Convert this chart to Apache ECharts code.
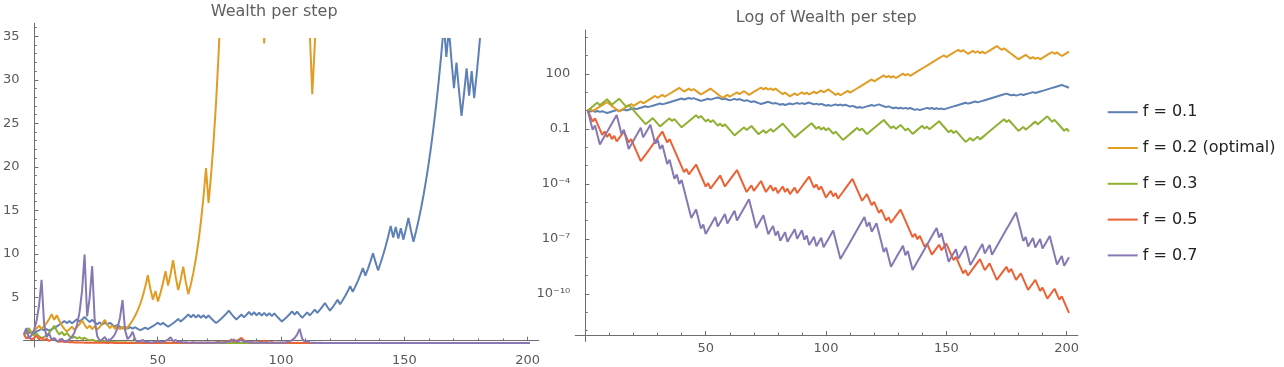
<!DOCTYPE html>
<html><head><meta charset="utf-8">
<script src="https://cdn.jsdelivr.net/npm/echarts@6/dist/echarts.min.js"></script>
<style>html,body{margin:0;padding:0;background:#fff;}#c{width:1284px;height:367px;}</style>
</head><body><div id="c"></div>
<script>
const seriesNames = ['f = 0.1', 'f = 0.2 (optimal)', 'f = 0.3', 'f = 0.5', 'f = 0.7'];
const colors = ['#5E81B5', '#E19C24', '#8FB032', '#EB6235', '#8778B3'];
const titleLeft = 'Wealth per step';
const titleRight = 'Log of Wealth per step';
const xTickLabels = [50, 100, 150, 200];
const xMinorTicks = [10,20,30,40,50,60,70,80,90,100,110,120,130,140,150,160,170,180,190,200];
const linYTickLabels = [5, 10, 15, 20, 25, 30, 35];
const linYMinorTicks = [1,2,3,4,5,6,7,8,9,10,11,12,13,14,15,16,17,18,19,20,21,22,23,24,25,26,27,28,29,30,31,32,33,34,35,36];
const logYTickExps = [2, -1, -4, -7, -10];
const logYTickLabels = ['100', '0.1', '10\u207B\u2074', '10\u207B\u2077', '10\u207B\u00B9\u2070'];
const logYMinorExps = [-12,-11,-10,-9,-8,-7,-6,-5,-4,-3,-2,-1,0,1,2,3,4];

// Left chart: wealth per step (linear), steps 1..201
const wealthF01 = [
1.00,1.10,1.21,1.09,1.20,1.32,1.45,1.60,1.44,1.58,
1.42,1.57,1.72,1.89,2.08,2.29,2.52,2.27,2.50,2.25,
2.47,2.72,2.45,2.69,2.96,2.67,2.40,2.64,2.37,2.14,
2.35,2.12,2.33,2.10,2.31,2.08,1.87,2.06,1.85,1.67,
1.83,1.65,1.82,1.64,1.80,1.62,1.46,1.60,1.76,1.59,
1.75,1.92,2.11,2.32,2.09,2.30,2.07,1.86,2.05,2.25,
2.48,2.73,2.45,2.70,2.97,3.27,2.94,3.23,2.91,3.20,
2.88,3.17,2.85,3.14,2.82,2.54,2.29,2.52,2.77,3.05,
3.35,3.69,3.32,2.99,2.69,2.96,3.25,2.93,3.22,3.54,
3.19,3.51,3.16,3.47,3.13,3.44,3.10,3.41,3.07,3.38,
3.04,2.74,2.46,2.71,2.98,3.28,3.61,3.25,3.57,3.22,
2.89,3.18,3.50,3.15,3.47,3.81,3.43,3.78,4.15,4.57,
4.11,3.70,4.07,4.48,4.93,4.43,4.88,5.36,5.90,6.49,
5.84,6.43,7.07,7.78,8.56,7.70,8.47,9.32,10.25,9.23,
8.30,9.13,10.05,11.05,12.16,13.37,12.04,13.24,11.92,13.11,
11.80,12.98,14.28,12.85,11.56,12.72,13.99,15.39,16.93,18.62,
20.48,22.53,24.78,27.26,29.99,32.99,36.29,32.66,35.93,32.34,
29.10,32.01,28.81,25.93,28.52,31.37,28.24,31.06,27.95,30.75,
33.82,37.20,40.92,36.83,40.51,44.56,40.11,44.12,48.53,43.68,
48.05,52.85,58.14,52.32,57.56,63.31,56.98,62.68,68.95,62.05,
68.26];
const wealthF02 = [
1.00,1.20,1.44,1.15,1.38,1.66,1.99,1.59,1.91,2.29,
2.75,3.30,2.64,3.17,2.54,2.03,1.62,1.30,1.56,1.87,
1.50,1.80,2.16,2.59,2.07,1.66,1.99,1.59,1.91,1.53,
1.84,2.20,2.64,2.11,1.69,2.03,1.62,1.95,1.56,1.87,
1.50,1.80,2.16,2.59,3.11,3.73,4.48,5.37,6.45,7.74,
6.19,4.95,5.94,4.75,5.70,6.84,8.21,6.57,7.88,9.46,
7.57,6.05,7.26,8.72,6.97,5.58,6.69,8.03,9.64,11.56,
13.88,16.65,19.98,15.99,19.18,23.02,27.62,33.15,39.78,47.73,
57.28,45.82,54.99,43.99,52.79,63.34,50.68,60.81,48.65,58.38,
46.70,56.04,44.84,53.50,42.80,34.20,41.04,49.25,39.40,47.28,
56.74,45.39,54.47,43.58,52.29,62.75,50.20,40.16,48.19,38.55,
46.26,37.01,44.41,35.53,28.42,34.10,40.92,49.10,58.92,47.14,
56.57,67.88,54.31,65.17,78.20,93.84,75.07,90.08,108.1,86.48,
105.1,126.2,100.9,121.1,145.3,174.4,139.5,167.4,133.9,160.7,
192.9,231.4,185.2,222.2,266.6,213.3,256.0,307.2,245.7,294.9,
353.9,283.1,339.7,407.6,326.1,391.3,469.6,375.7,450.8,541.0,
432.8,519.3,623.2,498.6,598.3,478.6,574.4,689.2,551.4,661.7,
794.0,635.2,762.3,914.7,731.8,878.1,702.5,843.0,1011.6,809.3,
971.1,1165.3,932.3,1118.7,1342.5,1074.0,1288.8,1031.0,1237.2,1484.7,
1187.7,1425.3,1710.3,1368.3,1641.9,1313.5,1576.3,1891.5,1513.2,1815.9,
2179.0];
const wealthF03 = [
1.00,1.30,1.69,1.18,0.83,1.08,0.76,0.53,0.69,0.90,
1.17,1.52,1.97,1.38,0.97,1.26,0.88,1.14,0.80,0.56,
0.73,0.51,0.66,0.46,0.60,0.42,0.29,0.38,0.27,0.19,
0.24,0.17,0.22,0.16,0.11,0.14,0.10,0.07,0.09,0.06,
0.08,0.05,0.04,0.05,0.03,0.02,0.03,0.02,0.01,0.02,
0.01,0.01,0.02,0.01,0.01,0.01,0,0.01,0.01,0,
0,0,0,0,0,0,0,0,0,0,
0,0,0,0,0,0,0,0,0,0,
0,0,0,0,0,0,0,0,0,0,
0,0,0,0,0,0,0,0,0,0,
0,0,0,0,0,0,0,0,0,0,
0,0,0,0,0,0,0,0,0,0,
0,0,0,0,0,0,0,0,0,0,
0,0,0,0,0,0,0,0,0,0,
0,0,0,0,0,0,0,0,0,0,
0,0,0,0,0,0,0,0,0,0,
0,0,0,0,0,0,0,0,0,0,
0,0,0,0,0,0,0,0,0,0,
0,0,0,0,0,0,0,0,0,0,
0,0,0,0,0,0,0,0,0,0,
0];
const wealthF05 = [
1.00,0.50,0.75,0.38,0.56,0.84,0.42,0.63,0.32,0.47,
0.24,0.35,0.53,0.26,0.13,0.20,0.10,0.15,0.08,0.11,
0.06,0.09,0.05,0.07,0.03,0.05,0.02,0.04,0.06,0.03,
0.04,0.02,0.03,0.01,0.02,0.03,0.01,0.02,0.01,0.02,
0.01,0.01,0.02,0.01,0.01,0.02,0.03,0.01,0.02,0.01,
0.01,0.02,0.01,0.01,0.02,0.03,0.01,0.02,0.03,0.02,
0.03,0.01,0.02,0.03,0.01,0.02,0.01,0.02,0.03,0.04,
0.02,0.03,0.05,0.02,0.04,0.06,0.09,0.13,0.07,0.10,
0.15,0.23,0.34,0.17,0.26,0.39,0.58,0.29,0.14,0.07,
0.11,0.05,0.08,0.12,0.18,0.27,0.13,0.07,0.10,0.05,
0.03,0.04,0.02,0.03,0.01,0.02,0.03,0.01,0.02,0.01,
0.01,0.01,0,0.01,0,0,0.01,0,0,0,
0,0,0,0,0,0,0,0,0,0,
0,0,0,0,0,0,0,0,0,0,
0,0,0,0,0,0,0,0,0,0,
0,0,0,0,0,0,0,0,0,0,
0,0,0,0,0,0,0,0,0,0,
0,0,0,0,0,0,0,0,0,0,
0,0,0,0,0,0,0,0,0,0,
0,0,0,0,0,0,0,0,0,0,
0];
const wealthF07 = [
1.00,1.70,0.51,0.87,1.47,2.50,4.25,7.22,2.17,0.65,
1.10,0.33,0.56,0.17,0.29,0.49,0.15,0.25,0.42,0.71,
1.21,2.06,3.50,5.95,10.11,3.03,5.16,8.77,2.63,0.79,
0.24,0.40,0.68,0.20,0.35,0.59,1.00,1.70,2.89,4.91,
1.47,0.44,0.75,1.28,0.38,0.12,0.20,0.34,0.10,0.17,
0.05,0.09,0.15,0.26,0.08,0.13,0.23,0.39,0.66,0.20,
0.34,0.10,0.17,0.05,0.09,0.03,0.05,0.08,0.02,0.04,
0.07,0.02,0.03,0.06,0.02,0.03,0.05,0.09,0.03,0.05,
0.08,0.14,0.24,0.41,0.12,0.21,0.36,0.11,0.18,0.05,
0.09,0.03,0.05,0.02,0.03,0.05,0.01,0.02,0.04,0.01,
0.02,0.03,0.06,0.02,0.11,0.19,0.33,0.56,0.95,1.62,
0.49,0.15,0.25,0.07,0.02,0.04,0.01,0.02,0.01,0,
0,0,0,0,0,0,0,0,0,0,
0,0,0,0,0,0,0,0,0,0,
0,0,0,0,0,0,0,0,0,0,
0,0,0,0,0,0,0,0,0,0,
0,0,0,0,0,0,0,0,0,0,
0,0,0,0,0,0,0,0,0,0,
0,0,0,0,0,0,0,0,0,0,
0,0,0,0,0,0,0,0,0,0,
0];

// Right chart: log10 of wealth per step (independent run), steps 1..201
const logWealthF01 = [
0.00,-0.05,-0.01,-0.06,-0.02,-0.07,-0.03,-0.08,-0.13,-0.09,
-0.05,-0.01,0.03,-0.02,0.02,0.06,0.01,0.05,0.09,0.13,
0.08,0.12,0.16,0.20,0.24,0.19,0.23,0.27,0.31,0.35,
0.39,0.34,0.38,0.42,0.46,0.50,0.54,0.58,0.62,0.66,
0.61,0.65,0.69,0.64,0.68,0.63,0.58,0.53,0.57,0.61,
0.65,0.60,0.64,0.68,0.72,0.67,0.62,0.66,0.61,0.56,
0.60,0.64,0.59,0.63,0.58,0.53,0.57,0.52,0.47,0.51,
0.46,0.41,0.36,0.40,0.44,0.48,0.43,0.38,0.42,0.37,
0.32,0.36,0.31,0.35,0.39,0.34,0.38,0.42,0.37,0.41,
0.36,0.40,0.44,0.39,0.34,0.38,0.33,0.37,0.32,0.27,
0.31,0.26,0.30,0.34,0.29,0.33,0.28,0.32,0.27,0.22,
0.26,0.21,0.16,0.20,0.15,0.19,0.23,0.27,0.31,0.26,
0.30,0.34,0.29,0.24,0.19,0.23,0.18,0.13,0.17,0.12,
0.16,0.11,0.15,0.10,0.14,0.09,0.04,0.08,0.03,0.07,
0.11,0.15,0.10,0.14,0.09,0.13,0.08,0.12,0.07,0.11,
0.15,0.19,0.23,0.27,0.31,0.35,0.39,0.43,0.38,0.42,
0.46,0.50,0.45,0.49,0.53,0.57,0.61,0.65,0.69,0.73,
0.77,0.81,0.85,0.89,0.93,0.88,0.83,0.87,0.82,0.86,
0.90,0.85,0.89,0.93,0.97,1.01,0.96,1.00,1.04,1.08,
1.12,1.16,1.20,1.24,1.28,1.32,1.36,1.40,1.35,1.30,
1.25];
const logWealthF02 = [
0.00,0.08,-0.02,0.06,0.14,0.22,0.30,0.38,0.46,0.36,
0.26,0.16,0.06,-0.04,0.04,0.12,0.20,0.28,0.36,0.26,
0.34,0.42,0.50,0.40,0.48,0.56,0.64,0.72,0.80,0.70,
0.78,0.86,0.76,0.84,0.92,1.00,1.08,1.16,1.24,1.14,
1.04,1.12,1.20,1.10,1.18,1.08,0.98,0.88,0.96,1.04,
1.12,1.20,1.10,1.00,0.90,0.80,0.70,0.78,0.86,0.76,
0.84,0.92,1.00,0.90,0.98,1.06,0.96,0.86,0.94,1.02,
1.10,1.18,1.26,1.16,1.24,1.14,1.22,1.12,1.20,1.10,
1.00,0.90,0.98,0.88,0.78,0.86,0.94,0.84,0.92,1.00,
0.90,0.98,0.88,0.96,1.04,0.94,1.02,1.10,1.00,1.08,
1.16,1.06,0.96,0.86,0.94,0.84,0.92,1.00,1.08,0.98,
1.06,1.14,1.22,1.30,1.38,1.46,1.54,1.62,1.70,1.60,
1.68,1.76,1.84,1.92,1.82,1.90,1.80,1.88,1.78,1.86,
1.94,2.02,1.92,2.00,1.90,1.98,2.06,2.14,2.22,2.30,
2.38,2.46,2.54,2.62,2.70,2.78,2.86,2.94,3.02,2.92,
3.00,3.08,3.16,3.24,3.32,3.22,3.30,3.20,3.10,3.18,
3.26,3.16,3.24,3.14,3.22,3.12,3.20,3.28,3.36,3.44,
3.52,3.42,3.32,3.40,3.30,3.20,3.10,3.00,2.90,2.80,
2.88,2.96,3.04,2.94,2.84,2.92,2.82,2.90,2.80,2.88,
2.96,3.04,3.12,3.20,3.10,3.18,3.08,2.98,3.06,3.14,
3.22];
const logWealthF03 = [
0.00,0.11,0.22,0.33,0.44,0.29,0.40,0.51,0.62,0.47,
0.32,0.43,0.54,0.65,0.50,0.35,0.20,0.31,0.16,0.01,
-0.14,-0.29,-0.44,-0.59,-0.74,-0.63,-0.52,-0.41,-0.56,-0.71,
-0.86,-0.75,-0.64,-0.53,-0.42,-0.57,-0.46,-0.61,-0.76,-0.91,
-0.80,-0.69,-0.58,-0.47,-0.36,-0.25,-0.40,-0.29,-0.44,-0.59,
-0.48,-0.63,-0.52,-0.67,-0.82,-0.71,-0.86,-0.75,-0.90,-1.05,
-1.20,-1.35,-1.24,-1.13,-1.02,-0.91,-1.06,-0.95,-0.84,-0.99,
-1.14,-1.29,-1.18,-1.07,-1.22,-1.11,-1.00,-1.15,-1.04,-0.93,
-0.82,-0.71,-0.86,-1.01,-1.16,-1.31,-1.46,-1.35,-1.24,-1.13,
-1.02,-0.91,-0.80,-0.69,-0.84,-0.99,-0.88,-1.03,-0.92,-1.07,
-0.96,-1.11,-1.26,-1.15,-1.30,-1.45,-1.60,-1.49,-1.38,-1.27,
-1.16,-1.05,-0.94,-1.09,-0.98,-1.13,-1.28,-1.17,-1.06,-0.95,
-0.84,-0.73,-0.62,-0.51,-0.66,-0.81,-0.96,-0.85,-1.00,-0.89,
-0.78,-0.93,-1.08,-0.97,-1.12,-1.27,-1.16,-1.05,-0.94,-0.83,
-0.98,-0.87,-1.02,-0.91,-0.80,-0.69,-0.58,-0.73,-0.88,-1.03,
-1.18,-1.07,-1.22,-1.11,-1.26,-1.41,-1.56,-1.71,-1.60,-1.49,
-1.64,-1.53,-1.42,-1.57,-1.46,-1.35,-1.24,-1.13,-1.02,-0.91,
-0.80,-0.69,-0.58,-0.47,-0.62,-0.51,-0.66,-0.81,-0.96,-1.11,
-1.00,-0.89,-1.04,-0.93,-0.82,-0.71,-0.60,-0.75,-0.64,-0.53,
-0.42,-0.31,-0.46,-0.61,-0.50,-0.65,-0.80,-0.95,-1.10,-0.99,
-1.14];
const logWealthF05 = [
0.00,-0.30,-0.60,-0.42,-0.72,-1.02,-1.32,-1.14,-1.44,-1.26,
-1.56,-1.38,-1.68,-1.50,-1.32,-1.14,-1.44,-1.74,-1.56,-1.86,
-2.16,-2.46,-2.76,-2.58,-2.40,-2.22,-2.04,-1.86,-1.68,-1.50,
-1.32,-1.14,-1.44,-1.74,-1.56,-1.86,-2.16,-2.46,-2.76,-3.06,
-3.36,-3.18,-3.48,-3.30,-3.12,-2.94,-3.24,-3.54,-3.84,-4.14,
-3.96,-4.26,-4.08,-3.90,-3.72,-3.54,-3.84,-4.14,-3.96,-3.78,
-3.60,-3.42,-3.24,-3.54,-3.84,-4.14,-4.44,-4.26,-4.08,-4.38,
-4.20,-4.02,-3.84,-4.14,-4.44,-4.26,-4.08,-4.38,-4.20,-4.50,
-4.32,-4.14,-4.44,-4.26,-4.56,-4.38,-4.20,-4.50,-4.32,-4.14,
-3.96,-3.78,-3.60,-3.90,-4.20,-4.02,-4.32,-4.14,-4.44,-4.74,
-4.56,-4.38,-4.68,-4.50,-4.80,-4.62,-4.44,-4.26,-4.08,-3.90,
-3.72,-4.02,-4.32,-4.62,-4.92,-4.74,-4.56,-4.86,-5.16,-4.98,
-5.28,-5.58,-5.40,-5.70,-6.00,-5.82,-6.12,-5.94,-5.76,-5.58,
-5.40,-5.70,-6.00,-6.30,-6.60,-6.90,-6.72,-7.02,-6.84,-7.14,
-7.44,-7.26,-7.56,-7.86,-7.68,-7.50,-7.32,-7.62,-7.44,-7.26,
-7.56,-7.86,-8.16,-7.98,-8.28,-8.58,-8.88,-8.70,-9.00,-8.82,
-8.64,-8.46,-8.28,-8.10,-8.40,-8.70,-8.52,-8.34,-8.64,-8.94,
-9.24,-9.06,-8.88,-8.70,-8.52,-8.82,-8.64,-8.94,-9.24,-9.06,
-8.88,-9.18,-9.48,-9.78,-9.60,-9.42,-9.24,-9.54,-9.84,-9.66,
-9.96,-10.26,-10.08,-9.90,-9.72,-10.02,-10.32,-10.14,-10.44,-10.74,
-11.04];
const logWealthF07 = [
0.00,-0.52,-1.04,-0.81,-1.33,-1.85,-1.62,-1.39,-1.16,-0.93,
-0.70,-0.47,-0.24,-0.76,-1.28,-1.05,-1.57,-2.09,-1.86,-1.63,
-1.40,-1.17,-0.94,-1.46,-1.23,-1.00,-0.77,-1.29,-1.81,-1.58,
-2.10,-1.87,-2.39,-2.91,-2.68,-3.20,-3.72,-3.49,-4.01,-3.78,
-4.30,-4.82,-5.34,-5.86,-5.63,-5.40,-5.92,-6.44,-6.21,-6.73,
-6.50,-6.27,-6.04,-5.81,-6.33,-6.10,-5.87,-5.64,-6.16,-5.93,
-5.70,-5.47,-5.99,-5.76,-5.53,-5.30,-5.07,-4.84,-5.36,-5.88,
-6.40,-6.17,-5.94,-5.71,-6.23,-6.75,-6.52,-6.29,-6.81,-6.58,
-7.10,-6.87,-6.64,-7.16,-6.93,-6.70,-6.47,-6.99,-6.76,-6.53,
-7.05,-6.82,-7.34,-7.11,-6.88,-7.40,-7.17,-6.94,-7.46,-7.23,
-7.00,-6.77,-6.54,-7.06,-7.58,-8.10,-7.87,-7.64,-7.41,-7.18,
-6.95,-6.72,-6.49,-6.26,-6.03,-5.80,-6.32,-6.09,-6.61,-6.38,
-6.15,-6.67,-7.19,-7.71,-7.48,-8.00,-8.52,-8.29,-8.06,-7.83,
-7.60,-7.37,-7.89,-7.66,-8.18,-8.70,-8.47,-8.24,-8.01,-7.78,
-7.55,-7.32,-7.09,-6.86,-6.63,-6.40,-6.92,-6.69,-7.21,-7.73,
-8.25,-8.02,-7.79,-7.56,-8.08,-7.85,-7.62,-7.39,-7.91,-8.43,
-8.20,-7.97,-7.74,-7.51,-7.28,-7.80,-7.57,-7.34,-7.86,-7.63,
-7.40,-7.17,-6.94,-6.71,-6.48,-6.25,-6.02,-5.79,-5.56,-6.08,
-6.60,-7.12,-6.89,-7.41,-7.18,-6.95,-7.47,-7.24,-7.01,-7.53,
-7.30,-7.07,-6.84,-7.36,-7.88,-8.40,-8.17,-7.94,-8.46,-8.23,
-8.00];

const leftData = [wealthF01, wealthF02, wealthF03, wealthF05, wealthF07];
const rightData = [logWealthF01, logWealthF02, logWealthF03, logWealthF05, logWealthF07];
const toPairs = arr => arr.map((v, i) => [i + 1, v]);

const FONT = 'DejaVu Sans';
const AX = '#6e6e6e';
const LBL = '#595959';

function axisBase(gridIndex, min, max) {
  return {gridIndex, type: 'value', min, max, splitLine: {show: false}};
}

const chart = echarts.init(document.getElementById('c'), null, {renderer: 'canvas'});
const series = [];
leftData.forEach((arr, k) => series.push({
  name: seriesNames[k], type: 'line', xAxisIndex: 2, yAxisIndex: 2,
  data: toPairs(arr), showSymbol: false, symbol: 'none', clip: true,
  lineStyle: {color: colors[k], width: 2}, itemStyle: {color: colors[k]},
  emphasis: {disabled: true}, animation: false
}));
rightData.forEach((arr, k) => series.push({
  name: seriesNames[k], type: 'line', xAxisIndex: 3, yAxisIndex: 3,
  data: toPairs(arr), showSymbol: false, symbol: 'none', clip: true,
  lineStyle: {color: colors[k], width: 2}, itemStyle: {color: colors[k]},
  emphasis: {disabled: true}, animation: false
}));

chart.setOption({
  animation: false,
  textStyle: {fontFamily: FONT},
  grid: [
    {left: 10.2, top: 23.3, width: 528.5, height: 326},
    {left: 10.2, top: 39.1, width: 528.5, height: 310.2},
    {left: 575.3, top: 30, width: 502.6, height: 311.5}
  ],
  xAxis: [
    Object.assign(axisBase(0, -4.4, 204.5), {position: 'bottom',
      axisLine: {show: true, onZero: true, lineStyle: {color: AX, width: 1}},
      axisTick: {show: true, inside: true, length: 4, customValues: xTickLabels, lineStyle: {color: AX}},
      axisLabel: {show: true, customValues: xTickLabels, margin: 7, color: LBL, fontSize: 13, fontFamily: FONT}}),
    Object.assign(axisBase(0, -4.4, 204.5), {position: 'bottom',
      axisLine: {show: false, onZero: true},
      axisTick: {show: true, inside: true, length: 2.3, customValues: xMinorTicks, lineStyle: {color: AX}},
      axisLabel: {show: false}}),
    Object.assign(axisBase(1, -4.4, 204.5), {show: false}),
    Object.assign(axisBase(2, -4.2, 204.7), {position: 'bottom', offset: -6.5,
      axisLine: {show: true, onZero: false, lineStyle: {color: AX, width: 1}},
      axisTick: {show: true, inside: true, length: 4, customValues: xTickLabels, lineStyle: {color: AX}},
      axisLabel: {show: true, customValues: xTickLabels, margin: 7, color: LBL, fontSize: 13, fontFamily: FONT}}),
    Object.assign(axisBase(2, -4.2, 204.7), {position: 'bottom', offset: -6.5,
      axisLine: {show: false, onZero: false},
      axisTick: {show: true, inside: true, length: 2.3, customValues: xMinorTicks, lineStyle: {color: AX}},
      axisLabel: {show: false}})
  ],
  yAxis: [
    Object.assign(axisBase(0, -0.72, 36.5), {position: 'left',
      axisLine: {show: true, onZero: true, lineStyle: {color: AX, width: 1}},
      axisTick: {show: true, inside: true, length: 2.3, customValues: linYMinorTicks, lineStyle: {color: AX}},
      axisLabel: {show: false}}),
    Object.assign(axisBase(0, -0.72, 36.5), {position: 'left',
      axisLine: {show: false, onZero: true},
      axisTick: {show: true, inside: true, length: 4, customValues: linYTickLabels, lineStyle: {color: AX}},
      axisLabel: {show: true, customValues: linYTickLabels, margin: 4, color: LBL, fontSize: 13, fontFamily: FONT}}),
    Object.assign(axisBase(1, -0.72, 34.7), {show: false}),
    Object.assign(axisBase(2, -12.6, 4.4), {position: 'left',
      axisLine: {show: true, onZero: true, lineStyle: {color: AX, width: 1}},
      axisTick: {show: true, inside: true, length: 2.3, customValues: logYMinorExps, lineStyle: {color: AX}},
      axisLabel: {show: false}}),
    Object.assign(axisBase(2, -12.6, 4.4), {position: 'left',
      axisLine: {show: false, onZero: true},
      axisTick: {show: true, inside: true, length: 4, customValues: logYTickExps, lineStyle: {color: AX}},
      axisLabel: {show: true, customValues: logYTickExps, margin: 5, color: LBL, fontSize: 13, fontFamily: FONT,
        formatter: v => { const i = logYTickExps.indexOf(Math.round(v)); return i >= 0 ? logYTickLabels[i] : ''; }}})
  ],
  legend: {
    data: seriesNames, orient: 'vertical', left: 1102.7, top: 99.2,
    icon: 'rect', itemWidth: 30, itemHeight: 2, itemGap: 19.8,
    textStyle: {fontSize: 16, fontFamily: FONT, color: '#222', lineHeight: 16},
    selectedMode: false
  },
  graphic: [
    {type: 'text', x: 274.2, y: 11.7, style: {text: titleLeft, fill: '#5f5f5f', font: '16px "DejaVu Sans"', align: 'center', verticalAlign: 'middle'}},
    {type: 'text', x: 826.3, y: 17.5, style: {text: titleRight, fill: '#5f5f5f', font: '16px "DejaVu Sans"', align: 'center', verticalAlign: 'middle'}}
  ],
  series
});
</script></body></html>
